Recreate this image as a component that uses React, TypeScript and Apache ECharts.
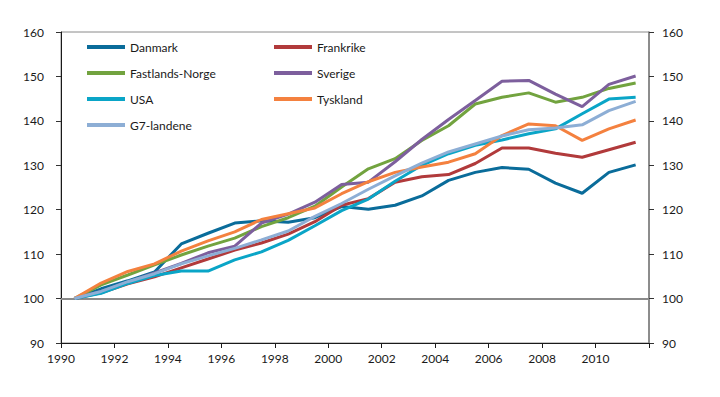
import React, { useEffect, useRef } from "react";
import * as echarts from "echarts";

const years = [1990, 1991, 1992, 1993, 1994, 1995, 1996, 1997, 1998, 1999, 2000, 2001, 2002, 2003, 2004, 2005, 2006, 2007, 2008, 2009, 2010, 2011];

const danmark = [100, 102.2, 104.0, 106.0, 112.3, 114.7, 117.0, 117.5, 117.2, 118.2, 120.7, 120.1, 121.0, 123.1, 126.6, 128.4, 129.5, 129.1, 126.0, 123.7, 128.4, 130.1];
const frankrike = [100, 101.3, 103.3, 104.9, 106.9, 108.9, 110.9, 112.5, 114.5, 117.3, 121.0, 122.5, 126.2, 127.4, 127.9, 130.4, 133.9, 133.9, 132.7, 131.8, 133.5, 135.2];
const fastlandsNorge = [100, 103.1, 105.3, 107.6, 109.8, 111.8, 113.6, 116.2, 118.2, 120.8, 125.1, 129.2, 131.5, 135.6, 138.9, 143.8, 145.3, 146.3, 144.2, 145.3, 147.3, 148.5];
const sverige = [100, 101.6, 103.7, 105.8, 107.9, 110.3, 111.8, 117.0, 119.0, 121.7, 125.7, 126.2, 130.8, 135.8, 140.3, 144.6, 148.9, 149.1, 146.0, 143.2, 148.2, 150.1];
const usa = [100, 101.2, 103.4, 105.2, 106.2, 106.2, 108.7, 110.5, 113.1, 116.4, 119.8, 122.4, 126.4, 130.0, 132.6, 134.5, 135.7, 137.1, 138.2, 141.6, 144.9, 145.3];
const tyskland = [100, 103.5, 106.1, 107.8, 110.7, 113.0, 115.0, 117.8, 119.1, 120.4, 123.6, 126.3, 128.4, 129.6, 130.7, 132.6, 136.7, 139.3, 138.9, 135.6, 138.2, 140.2];
const g7 = [100, 101.6, 103.8, 105.6, 107.8, 109.6, 111.3, 113.2, 115.2, 118.5, 121.4, 124.6, 127.6, 130.5, 133.0, 134.8, 136.6, 138.0, 138.4, 139.1, 142.3, 144.4];

const seriesDefs = [
  { name: "Danmark", data: danmark, color: "#0a6c9a" },
  { name: "Frankrike", data: frankrike, color: "#b13a3b" },
  { name: "Fastlands-Norge", data: fastlandsNorge, color: "#72a33f" },
  { name: "Sverige", data: sverige, color: "#7d5f9d" },
  { name: "USA", data: usa, color: "#0aa5c7" },
  { name: "Tyskland", data: tyskland, color: "#f4813f" },
  { name: "G7-landene", data: g7, color: "#8daed5" },
];

const yTicks = [90, 100, 110, 120, 130, 140, 150, 160];

const FONT = "Lato, 'Noto Sans', sans-serif";

export default function App() {
  const ref = useRef<HTMLDivElement>(null);
  useEffect(() => {
    if (!ref.current) return;
    const chart = echarts.init(ref.current, null, { renderer: "svg" });
    const textStyle = { color: "#1a1a1a", fontSize: 12, fontFamily: FONT };
    const yAxisBase = {
      type: "value",
      min: yTicks[0],
      max: yTicks[yTicks.length - 1],
      interval: 10,
      splitLine: { show: false },
      axisTick: { show: true, inside: false, length: 5, lineStyle: { color: "#333" } },
    };
    const legendBase = {
      orient: "vertical",
      top: 40,
      padding: 0,
      itemWidth: 38,
      itemHeight: 4,
      itemGap: 12,
      icon: "rect",
      textStyle: { ...textStyle, lineHeight: 14 },
    };
    chart.setOption({
      animation: false,
      grid: {
        left: 61,
        right: 71,
        top: 32,
        bottom: 54,
        show: true,
        borderColor: "#8a8a8a",
        borderWidth: 1,
      },
      legend: [
        { ...legendBase, left: 87, data: ["Danmark", "Fastlands-Norge", "USA", "G7-landene"] },
        { ...legendBase, left: 274, data: ["Frankrike", "Sverige", "Tyskland"] },
      ],
      xAxis: {
        type: "value",
        min: 1990,
        max: 2012,
        interval: 2,
        splitLine: { show: false },
        axisLine: { show: true, onZero: false, lineStyle: { color: "#1a1a1a", width: 1 } },
        axisTick: { show: true, inside: false, length: 5, lineStyle: { color: "#1a1a1a" } },
        axisLabel: {
          ...textStyle,
          margin: 9,
          formatter: (v: number) => (v >= 2012 ? "" : String(v)),
        },
      },
      yAxis: [
        {
          ...yAxisBase,
          position: "left",
          axisLine: { show: true, lineStyle: { color: "#1a1a1a", width: 1 } },
          axisLabel: { ...textStyle, margin: 17 },
        },
        {
          ...yAxisBase,
          position: "right",
          axisLine: { show: true, lineStyle: { color: "#7a7a7a", width: 1.5 } },
          axisLabel: { ...textStyle, margin: 13 },
        },
      ],
      series: seriesDefs.map((s, i) => ({
        name: s.name,
        type: "line",
        yAxisIndex: 0,
        showSymbol: false,
        symbol: "none",
        color: s.color,
        lineStyle: { width: 3, color: s.color },
        data: years.map((y, j) => [y + 0.5, s.data[j]]),
        z: 3,
        markLine:
          i === 0
            ? {
                silent: true,
                symbol: "none",
                label: { show: false },
                lineStyle: { color: "#8a8a8a", width: 2, type: "solid" },
                data: [{ yAxis: 100 }],
                z: 1,
              }
            : undefined,
      })),
    });
    return () => chart.dispose();
  }, []);
  return (
    <div
      ref={ref}
      style={{ position: "fixed", left: 0, top: 0, width: 720, height: 397, background: "#fff" }}
    />
  );
}
